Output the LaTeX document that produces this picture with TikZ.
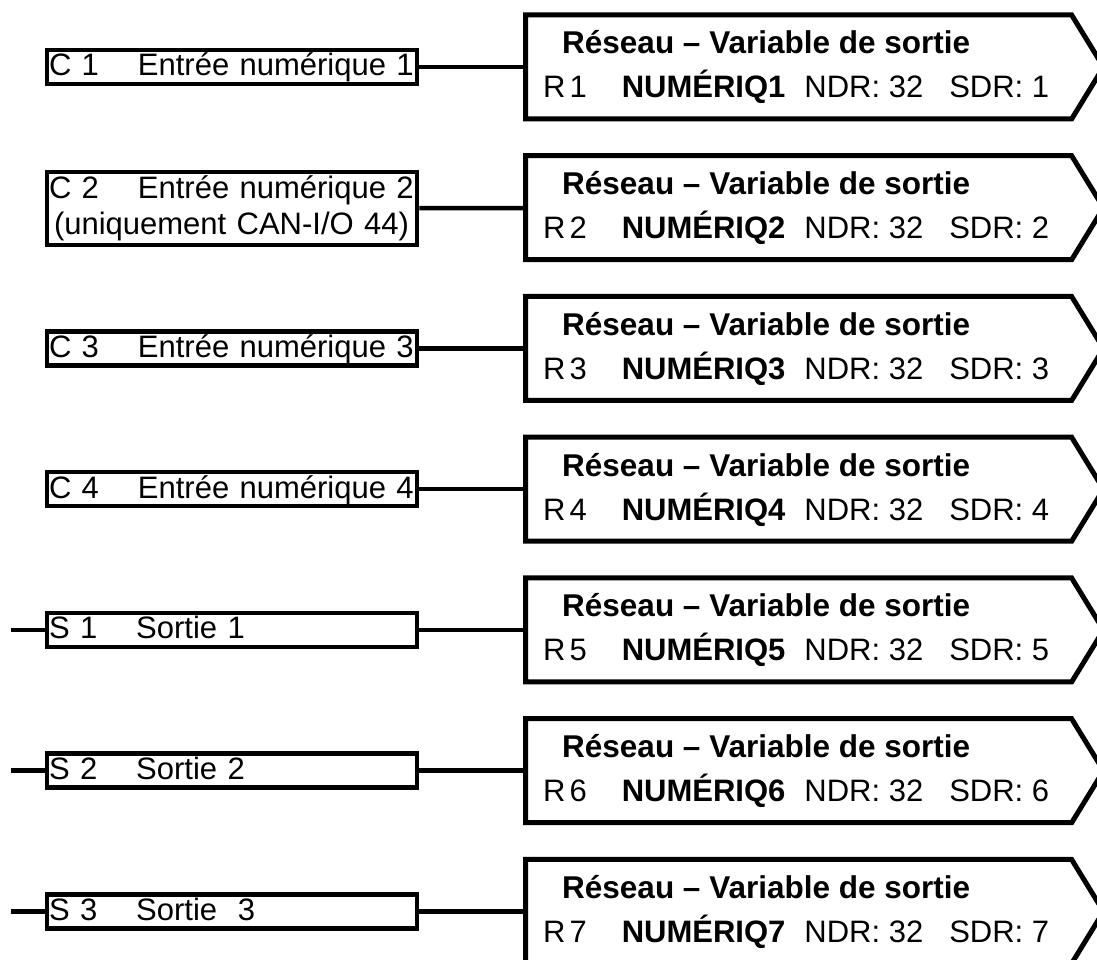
\documentclass[tikz,border=0pt]{standalone}
\usepackage{fontspec}
\setmainfont{Liberation Sans}
\usetikzlibrary{shapes.symbols}

\begin{document}
\begin{tikzpicture}[x=1pt,y=1pt]
		\tikzset{inbase/.style = {shape=rectangle, draw, line width=4.5pt, minimum width=370pt, text width=366pt, align=left, inner xsep=2pt, inner ysep=1pt, font=\fontsize{31}{36}\selectfont}}
		\tikzset{inbox/.style = {inbase, minimum height=34pt, text height=23pt, text depth=5pt}}
		\tikzset{netbox/.style = {shape=signal, signal to=east, signal pointer angle=117, draw, line width=5pt, minimum width=578pt, minimum height=104pt, anchor=west, inner sep=0pt}}
		\tikzset{title/.style = {anchor=base west, inner sep=0pt, font=\fontsize{31.5}{36}\selectfont\bfseries}}
		\tikzset{info/.style = {anchor=base west, inner sep=0pt, font=\fontsize{31}{36}\selectfont}}
		\tikzset{wire/.style = {line width=4.5pt}}

		\useasboundingbox (0,0) rectangle (1097,960);

		% inputs and outputs of the module
		\node[inbox] (C1) at (232,893) {C 1\hspace{39pt}Entrée numérique 1};
		\node[inbase, minimum height=73pt] (C2) at (232,751.5) {C 2\hspace{39pt}Entrée numérique 2\\\hspace*{5pt}(uniquement CAN-I/O 44)};
		\node[inbox] (C3) at (232,611.5) {C 3\hspace{39pt}Entrée numérique 3};
		\node[inbox] (C4) at (232,470.75) {C 4\hspace{39pt}Entrée numérique 4};
		\node[inbox] (S1) at (232,330) {S 1\hspace{39pt}Sortie 1};
		\node[inbox] (S2) at (232,189.25) {S 2\hspace{39pt}Sortie 2};
		\node[inbox] (S3) at (232,48.5) {S 3\hspace{39pt}Sortie\ \ 3};

		\coordinate (L1) at (11,330);
		\coordinate (L2) at (11,189.25);
		\coordinate (L3) at (11,48.5);

		% network variables
		\node[netbox] (R1) at (523,893) {};
		\node[netbox] (R2) at (523,752.25) {};
		\node[netbox] (R3) at (523,611.5) {};
		\node[netbox] (R4) at (523,470.75) {};
		\node[netbox] (R5) at (523,330) {};
		\node[netbox] (R6) at (523,189.25) {};
		\node[netbox] (R7) at (523,48.5) {};

		\node[title] (T1) at (562,906) {Réseau – Variable de sortie};
		\node[title] (T2) at (562,765.25) {Réseau – Variable de sortie};
		\node[title] (T3) at (562,624.5) {Réseau – Variable de sortie};
		\node[title] (T4) at (562,483.75) {Réseau – Variable de sortie};
		\node[title] (T5) at (562,343) {Réseau – Variable de sortie};
		\node[title] (T6) at (562,202.25) {Réseau – Variable de sortie};
		\node[title] (T7) at (562,61.5) {Réseau – Variable de sortie};

		\node[info] (D1) at (543,862) {R\kern4pt1\hspace{35pt}\textbf{NUMÉRIQ1}\hspace{19pt}NDR: 32\hspace{26pt}SDR: 1};
		\node[info] (D2) at (543,721.25) {R\kern4pt2\hspace{35pt}\textbf{NUMÉRIQ2}\hspace{19pt}NDR: 32\hspace{26pt}SDR: 2};
		\node[info] (D3) at (543,580.5) {R\kern4pt3\hspace{35pt}\textbf{NUMÉRIQ3}\hspace{19pt}NDR: 32\hspace{26pt}SDR: 3};
		\node[info] (D4) at (543,439.75) {R\kern4pt4\hspace{35pt}\textbf{NUMÉRIQ4}\hspace{19pt}NDR: 32\hspace{26pt}SDR: 4};
		\node[info] (D5) at (543,299) {R\kern4pt5\hspace{35pt}\textbf{NUMÉRIQ5}\hspace{19pt}NDR: 32\hspace{26pt}SDR: 5};
		\node[info] (D6) at (543,158.25) {R\kern4pt6\hspace{35pt}\textbf{NUMÉRIQ6}\hspace{19pt}NDR: 32\hspace{26pt}SDR: 6};
		\node[info] (D7) at (543,17.5) {R\kern4pt7\hspace{35pt}\textbf{NUMÉRIQ7}\hspace{19pt}NDR: 32\hspace{26pt}SDR: 7};

		\draw[wire] (C1) to (R1);
		\draw[wire] (C2) to (R2);
		\draw[wire] (C3) to (R3);
		\draw[wire] (C4) to (R4);
		\draw[wire] (S1) to (R5);
		\draw[wire] (S2) to (R6);
		\draw[wire] (S3) to (R7);

		\draw[wire] (L1) to (S1);
		\draw[wire] (L2) to (S2);
		\draw[wire] (L3) to (S3);

	\end{tikzpicture}
\end{document}
